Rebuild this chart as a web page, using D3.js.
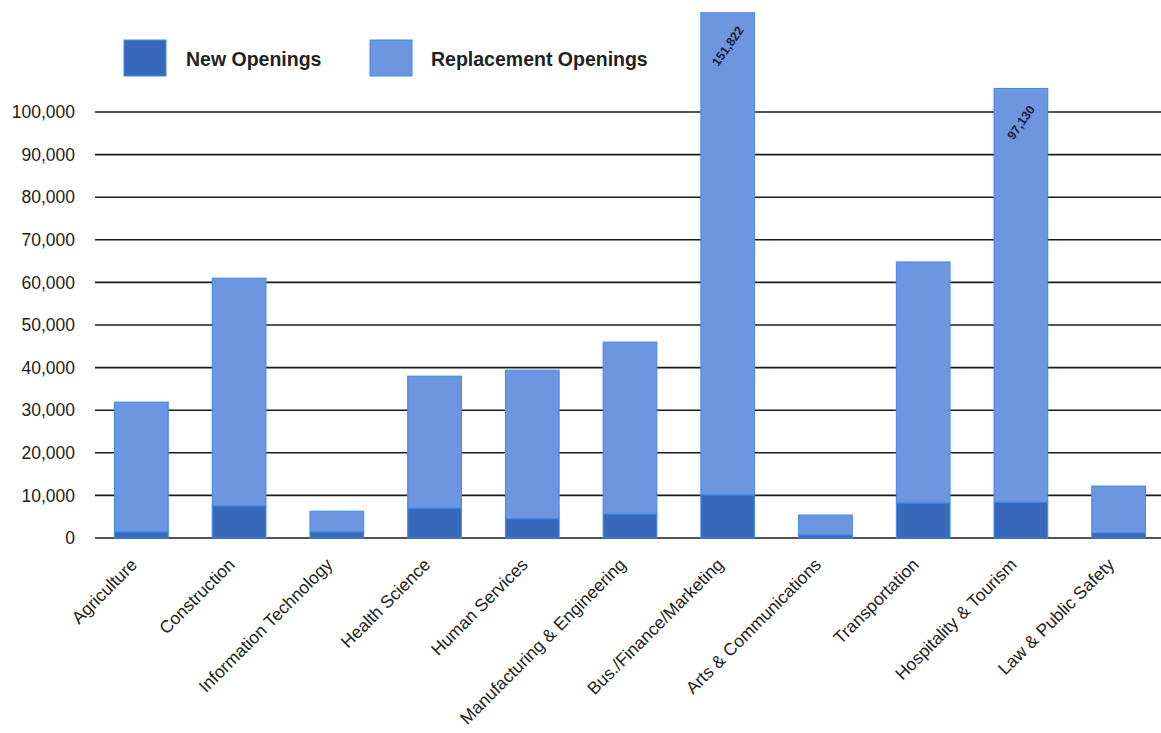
<!DOCTYPE html>
<html>
<head>
<meta charset="utf-8">
<script src="https://cdn.jsdelivr.net/npm/d3@7"></script>
<style>
  body { margin: 0; background: #fff; }
  svg { display: block; font-family: "Liberation Sans", Arial, sans-serif; }
</style>
</head>
<body>
<div id="chart"></div>
<script>
// categories and the two stacked series
var categories = ["Agriculture", "Construction", "Information Technology", "Health Science",
  "Human Services", "Manufacturing & Engineering", "Bus./Finance/Marketing",
  "Arts & Communications", "Transportation", "Hospitality & Tourism", "Law & Public Safety"];
var newOpenings = [1400, 7500, 1400, 7000, 4500, 5600, 10100, 700, 8200, 8400, 1200];
var replacementOpenings = [30500, 53500, 4900, 31000, 34900, 40400, 151822, 4700, 56600, 97130, 11000];
var labelled = [6, 9]; // bars that go past the top gridline carry a value label
var yTicks = [0, 10000, 20000, 30000, 40000, 50000, 60000, 70000, 80000, 90000, 100000];

var width = 1161, height = 733;
var colors = { newer: "#3868ba", repl: "#6e95df", edge: "#3b8ded" };

var svg = d3.select("#chart").append("svg")
  .attr("width", width)
  .attr("height", height);

var x = d3.scaleBand()
  .domain(categories)
  .range([93, 1167])
  .paddingInner(0.45)
  .paddingOuter(0.22);

var y = d3.scaleLinear()
  .domain([0, 100000])
  .range([538, 112]);

// clip bars at the top of the plot like the original
svg.append("clipPath").attr("id", "plotclip")
  .append("rect").attr("x", 0).attr("y", 12).attr("width", width).attr("height", 540);

// gridlines (behind the bars)
svg.append("g")
  .selectAll("line")
  .data(yTicks)
  .enter()
  .append("line")
  .attr("x1", 95).attr("x2", 1161)
  .attr("y1", function (d) { return y(d); })
  .attr("y2", function (d) { return y(d); })
  .attr("stroke", "#1a1a1a")
  .attr("stroke-width", 1.6);

// y axis labels
var yAxis = d3.axisLeft(y).tickValues(yTicks).tickFormat(d3.format(",")).tickSize(0).tickPadding(0);
svg.append("g")
  .attr("transform", "translate(75,0)")
  .call(yAxis)
  .call(function (g) { g.select(".domain").remove(); })
  .selectAll("text")
  .attr("font-size", 17.5)
  .attr("font-family", "'Liberation Sans', Arial, sans-serif")
  .attr("fill", "#222");

var rows = categories.map(function (c, i) {
  return { cat: c, newer: newOpenings[i], repl: replacementOpenings[i], i: i };
});

var bars = svg.append("g").attr("clip-path", "url(#plotclip)");

// replacement openings on top
bars.selectAll("rect.repl")
  .data(rows)
  .enter()
  .append("rect")
  .attr("class", "repl")
  .attr("x", function (d) { return x(d.cat); })
  .attr("width", x.bandwidth())
  .attr("y", function (d) { return y(d.newer + d.repl); })
  .attr("height", function (d) { return y(d.newer) - y(d.newer + d.repl); })
  .attr("fill", colors.repl)
  .attr("stroke", colors.edge)
  .attr("stroke-width", 1);

// new openings at the bottom
bars.selectAll("rect.newer")
  .data(rows)
  .enter()
  .append("rect")
  .attr("class", "newer")
  .attr("x", function (d) { return x(d.cat); })
  .attr("width", x.bandwidth())
  .attr("y", function (d) { return y(d.newer); })
  .attr("height", function (d) { return y(0) - y(d.newer); })
  .attr("fill", colors.newer)
  .attr("stroke", colors.edge)
  .attr("stroke-width", 1);

// rotated value labels on the tall bars
svg.append("g")
  .selectAll("text")
  .data(rows.filter(function (d) { return labelled.indexOf(d.i) >= 0; }))
  .enter()
  .append("text")
  .attr("transform", function (d) {
    var top = Math.max(12, y(d.newer + d.repl));
    return "translate(" + (x(d.cat) + x.bandwidth() / 2) + "," + (top + 34) + ") rotate(-55)";
  })
  .attr("text-anchor", "middle")
  .attr("dy", "0.35em")
  .attr("font-size", 12.5)
  .attr("font-weight", "bold")
  .attr("fill", "#1a1f3a")
  .text(function (d) { return d3.format(",")(d.repl); });

// category labels
svg.append("g")
  .selectAll("text")
  .data(categories)
  .enter()
  .append("text")
  .attr("transform", function (d) {
    return "translate(" + (x(d) + x.bandwidth() / 2 - 12) + ",557) rotate(-45)";
  })
  .attr("text-anchor", "end")
  .attr("dy", "0.71em")
  .attr("font-size", 17.5)
  .attr("fill", "#222")
  .text(function (d) { return d; });

// legend
var legendItems = [
  { label: "New Openings", color: colors.newer, x: 124, tx: 186 },
  { label: "Replacement Openings", color: colors.repl, x: 370, tx: 431 }
];
var legend = svg.append("g");
legend.selectAll("rect")
  .data(legendItems)
  .enter()
  .append("rect")
  .attr("x", function (d) { return d.x; })
  .attr("y", 40)
  .attr("width", 42)
  .attr("height", 36)
  .attr("fill", function (d) { return d.color; })
  .attr("stroke", colors.edge)
  .attr("stroke-width", 1);
legend.selectAll("text")
  .data(legendItems)
  .enter()
  .append("text")
  .attr("x", function (d) { return d.tx; })
  .attr("y", 66)
  .attr("font-size", 19.5)
  .attr("font-weight", "bold")
  .attr("fill", "#222")
  .text(function (d) { return d.label; });
</script>
</body>
</html>
